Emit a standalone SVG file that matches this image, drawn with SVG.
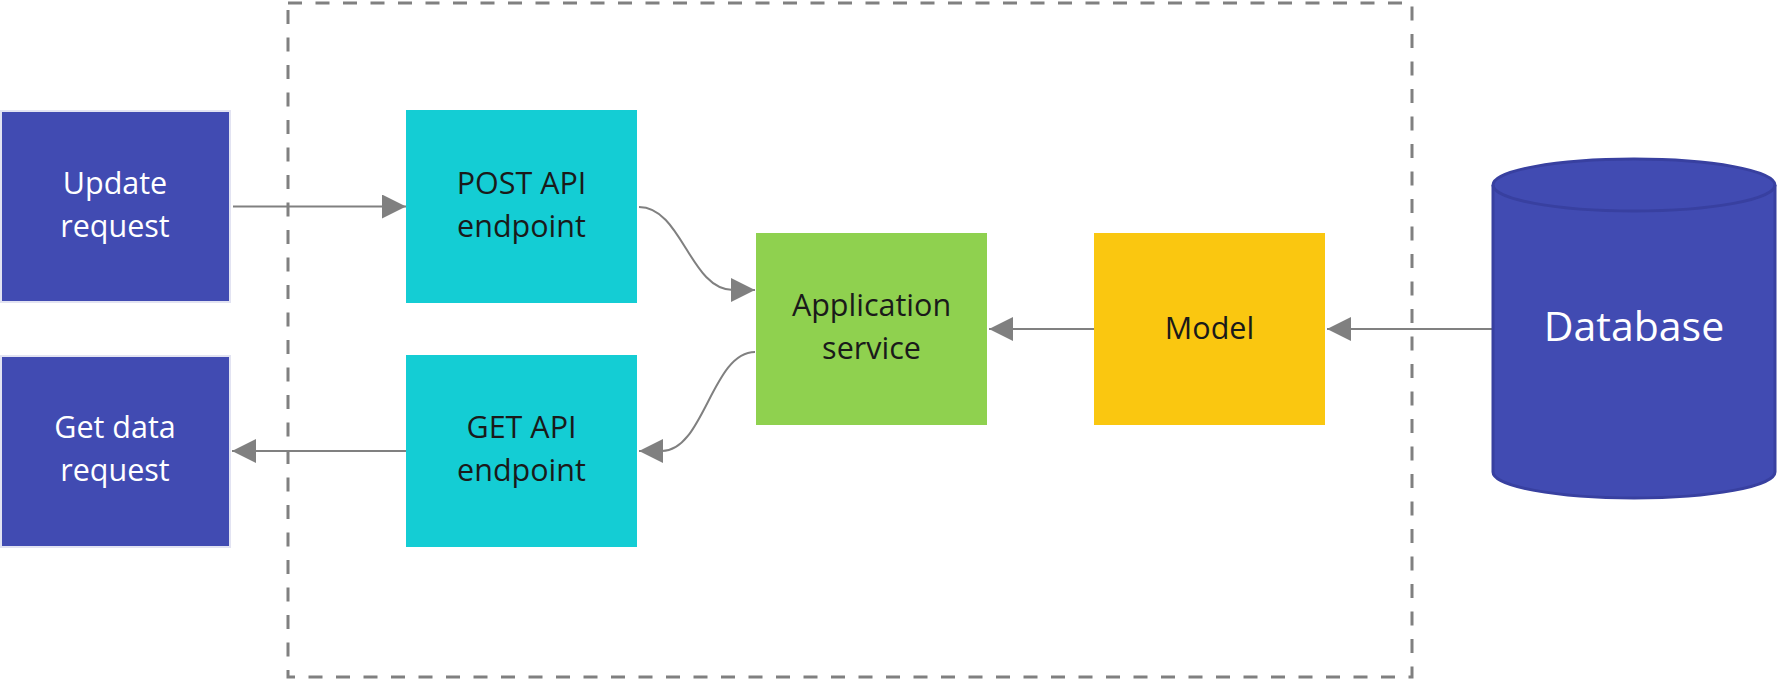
<svg xmlns="http://www.w3.org/2000/svg" width="1779" height="679" viewBox="0 0 1779 679">
<style>
  .lbl { font-family: "Open Sans", "Noto Sans", "Liberation Sans", sans-serif; font-size: 30.5px; text-anchor: middle; }
  .light { fill: #ffffff; }
  .dark { fill: #1a1a1a; }
  .conn { fill: none; stroke: #808080; stroke-width: 2; marker-end: url(#arrow); }
  .indigo { fill: #414BB2; stroke: #e2e3f2; stroke-width: 2; }
</style>
<defs>
  <marker id="arrow" markerUnits="userSpaceOnUse" markerWidth="24" markerHeight="24" viewBox="0 0 24 24" refX="24" refY="12" orient="auto">
    <path d="M0,0 L24,12 L0,24 Z" fill="#808080"/>
  </marker>
</defs>
<rect width="1779" height="679" fill="#ffffff"/>
<g id="boundary">
  <rect x="288" y="3" width="1124" height="674" fill="none" stroke="#808080" stroke-width="3" stroke-dasharray="14 13.5"/>
</g>
<g id="connectors">
  <path class="conn" d="M233,206.5 L406,206.5"/>
  <path class="conn" d="M639,207 C682,207 690,290 733,290 L755,290"/>
  <path class="conn" d="M755,352 C712,352 704,451 662,451 L639,451"/>
  <path class="conn" d="M406,451 L232,451"/>
  <path class="conn" d="M1094,329 L989,329"/>
  <path class="conn" d="M1492,329 L1327,329"/>
</g>
<g id="update-request">
  <rect class="indigo" x="1" y="111" width="229" height="191"/>
  <text class="lbl light" x="115" y="194">Update</text>
  <text class="lbl light" x="115" y="237">request</text>
</g>
<g id="get-data-request">
  <rect class="indigo" x="1" y="356" width="229" height="191"/>
  <text class="lbl light" x="115" y="438">Get data</text>
  <text class="lbl light" x="115" y="481">request</text>
</g>
<g id="post-api">
  <rect x="406" y="110" width="231" height="193" fill="#14CDD4"/>
  <text class="lbl dark" x="521.5" y="194">POST API</text>
  <text class="lbl dark" x="521.5" y="237">endpoint</text>
</g>
<g id="get-api">
  <rect x="406" y="355" width="231" height="192" fill="#14CDD4"/>
  <text class="lbl dark" x="521.5" y="438">GET API</text>
  <text class="lbl dark" x="521.5" y="481">endpoint</text>
</g>
<g id="application-service">
  <rect x="756" y="233" width="231" height="192" fill="#8FD14F"/>
  <text class="lbl dark" x="871.5" y="316">Application</text>
  <text class="lbl dark" x="871.5" y="359">service</text>
</g>
<g id="model">
  <rect x="1094" y="233" width="231" height="192" fill="#FAC710"/>
  <text class="lbl dark" x="1209.5" y="339">Model</text>
</g>
<g id="database">
  <path d="M1493,185 L1493,472 A141,26 0 0 0 1775,472 L1775,185 A141,26 0 0 0 1493,185 Z" fill="#414BB2" stroke="#3840A0" stroke-width="3"/>
  <path d="M1493,185 A141,26 0 0 0 1775,185" fill="none" stroke="#3840A0" stroke-width="3"/>
  <text class="lbl light" x="1634" y="341" style="font-size:41px">Database</text>
</g>
</svg>
